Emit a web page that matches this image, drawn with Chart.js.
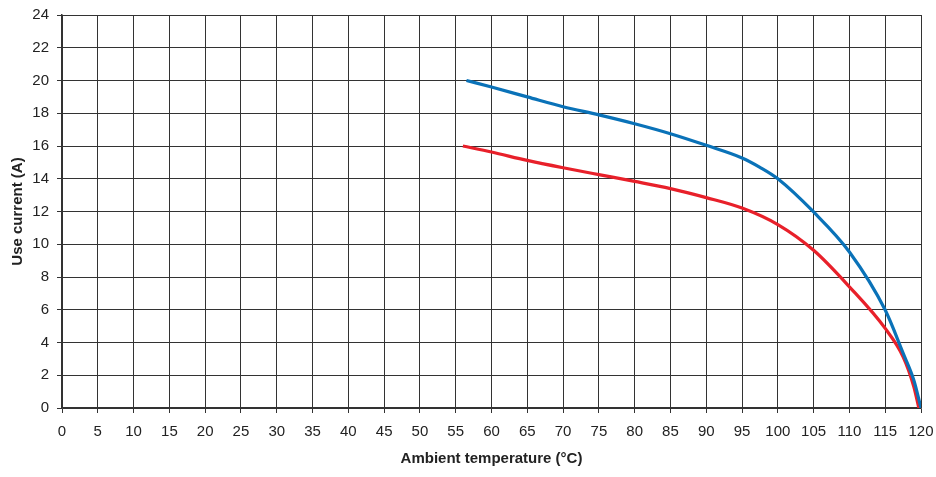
<!DOCTYPE html>
<html>
<head>
<meta charset="utf-8">
<script src="https://cdn.jsdelivr.net/npm/chart.js@4/dist/chart.umd.min.js"></script>
<style>
  html, body { margin: 0; padding: 0; background: #fff; }
  #wrap { width: 936px; height: 477px; }
</style>
</head>
<body>
<div id="wrap"><canvas id="myChart" width="936" height="477"></canvas></div>
<script>
// values
const tempsBlue = [56.5, 60, 65, 70, 75, 80, 85, 90, 95, 97.5, 100, 105, 110, 115, 117.5, 119, 120];
const currentBlue = [20, 19.6, 19.0, 18.4, 17.9, 17.36, 16.75, 16.04, 15.27, 14.7, 14.0, 11.97, 9.53, 5.98, 3.35, 1.7, 0];
const tempsRed = [56, 60, 65, 70, 75, 80, 85, 90, 95, 100, 105, 110, 115, 117.5, 119, 119.7];
const currentRed = [16, 15.63, 15.12, 14.67, 14.25, 13.84, 13.4, 12.85, 12.21, 11.2, 9.63, 7.4, 4.86, 3.13, 1.3, 0];

const xTitle = 'Ambient temperature (°C)';
const yTitle = 'Use current (A)';

const toPoints = (xs, ys) => xs.map((x, i) => ({ x: x, y: ys[i] }));

const gridColor = '#333333';
const textColor = '#222222';
const fontFamily = "'Liberation Sans', Arial, sans-serif";

const bgPlugin = {
    id: 'bg',
    beforeDraw(chart) {
        const ctx = chart.ctx;
        ctx.save();
        ctx.fillStyle = '#fff';
        ctx.fillRect(0, 0, chart.width, chart.height);
        ctx.restore();
    }
};

const ctx = document.getElementById('myChart').getContext('2d');
const myChart = new Chart(ctx, {
    type: 'line',
    data: {
        datasets: [
            {
                data: toPoints(tempsBlue, currentBlue),
                borderColor: '#0a72b8',
                borderWidth: 3.2,
                pointRadius: 0,
                cubicInterpolationMode: 'monotone'
            },
            {
                data: toPoints(tempsRed, currentRed),
                borderColor: '#e8202a',
                borderWidth: 3.2,
                pointRadius: 0,
                cubicInterpolationMode: 'monotone'
            }
        ]
    },
    options: {
        responsive: false,
        animation: false,
        layout: { padding: { top: 15, right: 15, left: 0, bottom: 0 } },
        plugins: { legend: { display: false }, tooltip: { enabled: false } },
        scales: {
            x: {
                type: 'linear',
                min: 0,
                max: 120,
                ticks: { stepSize: 5, color: textColor, font: { family: fontFamily, size: 15 }, padding: 10, maxRotation: 0 },
                grid: { color: gridColor, lineWidth: 1, tickLength: 5 },
                border: { color: gridColor, width: 1.5 },
                title: { display: true, text: xTitle, color: textColor, font: { family: fontFamily, size: 15, weight: 'bold' }, padding: { top: 10, bottom: 9 } },
                afterFit(scale) {
                    scale.height = 69;
                    scale.paddingLeft = 0;
                    scale.paddingRight = 0;
                }
            },
            y: {
                min: 0,
                max: 24,
                ticks: { stepSize: 2, color: textColor, font: { family: fontFamily, size: 15 }, padding: 8 },
                grid: { color: gridColor, lineWidth: 1, tickLength: 5 },
                border: { color: gridColor, width: 1.5 },
                title: { display: true, text: yTitle, color: textColor, font: { family: fontFamily, size: 15, weight: 'bold' }, padding: { top: 9, bottom: 4 } },
                afterFit(scale) {
                    scale.width = 62;
                    scale.paddingTop = 0;
                    scale.paddingBottom = 0;
                }
            }
        }
    },
    plugins: [bgPlugin]
});
</script>
</body>
</html>
